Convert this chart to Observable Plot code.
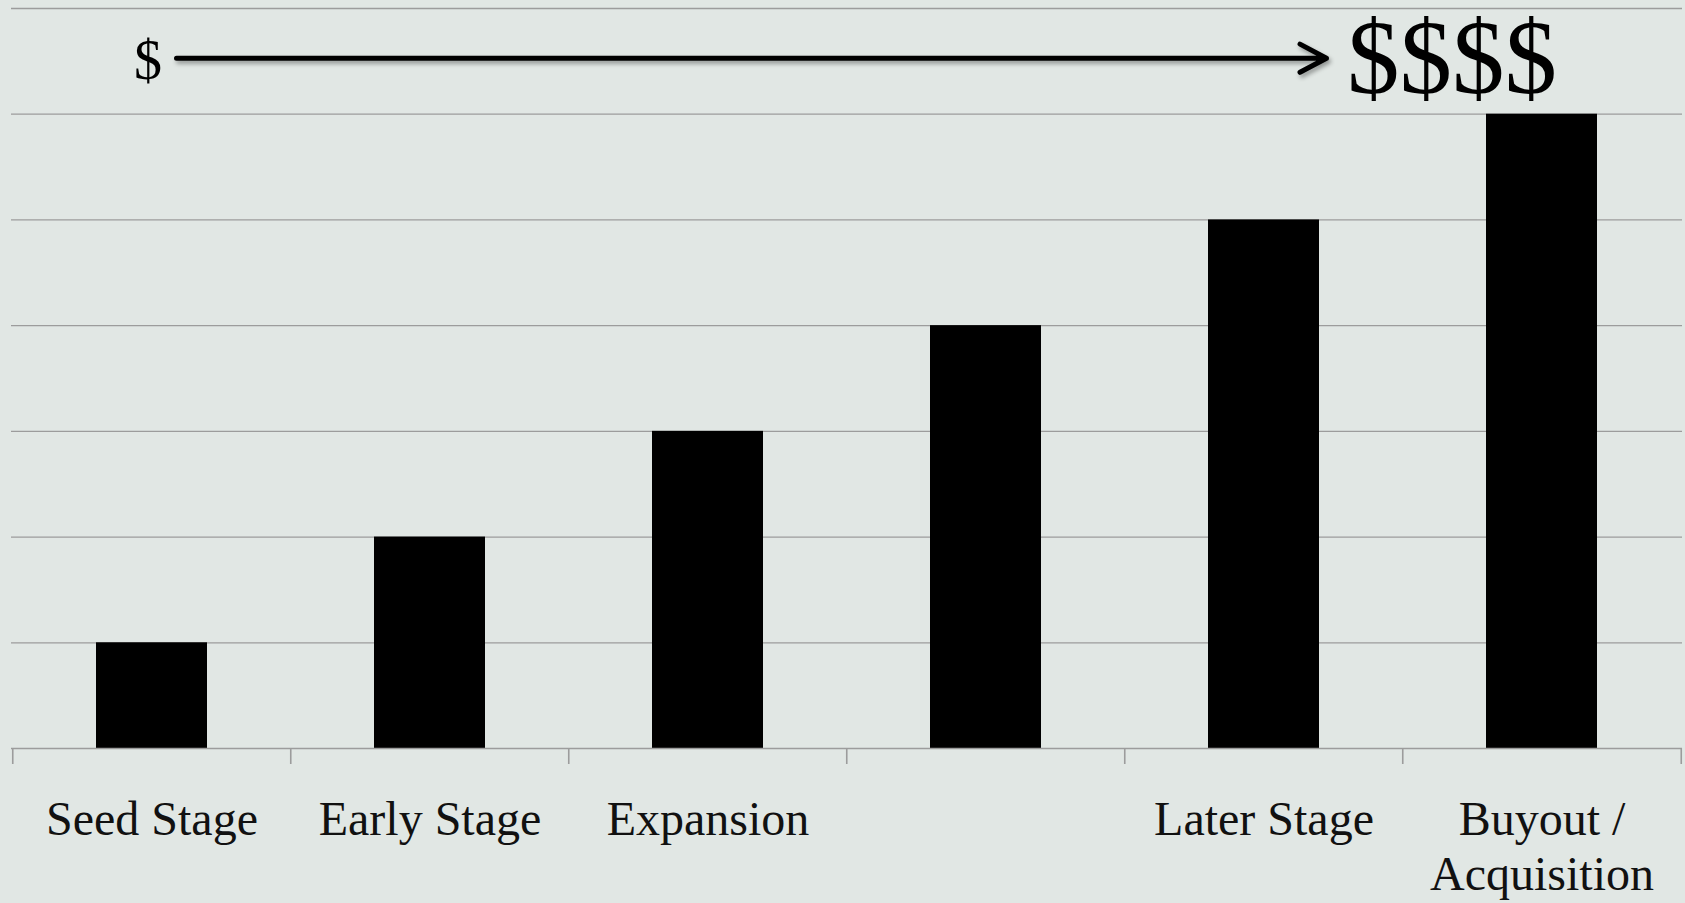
<!DOCTYPE html>
<html>
<head>
<meta charset="utf-8">
<script src="https://cdn.jsdelivr.net/npm/d3@7"></script>
<script src="https://cdn.jsdelivr.net/npm/@observablehq/plot@0.6"></script>
<style>
  html, body { margin: 0; padding: 0; background: #e1e7e4; }
  #chart svg { display: block; }
  .shadow path { filter: drop-shadow(2px 3px 2px rgba(0,0,0,0.35)); }
</style>
</head>
<body>
<div id="chart"></div>
<script>
// ---- data ----
const categories = ["Seed Stage", "Early Stage", "Expansion", "", "Later Stage", "Buyout / Acquisition"];
const tickLabels = ["Seed Stage", "Early Stage", "Expansion", "", "Later Stage", "Buyout /\nAcquisition"];
const values = [1, 2, 3, 4, 5, 6];
const gridValues = [1, 2, 3, 4, 5, 6, 7];
const arrowFrom = "Seed Stage";
const arrowTo = "Later Stage";
const arrowLevel = 6.53;
const lowLabel = "$";
const highLabel = "$$$$";

const rows = categories.map((c, i) => ({category: c, value: values[i], label: tickLabels[i]}));

const W = 1685, H = 903;
const mL = 11, mR = 3, mT = 8, mB = 155;
const step = (W - mL - mR) / categories.length;
const gray = "#9c9c9c";

const plot = Plot.plot({
  width: W,
  height: H,
  marginLeft: mL,
  marginRight: mR,
  marginTop: mT,
  marginBottom: mB,
  style: {background: "#e1e7e4", fontFamily: "'Liberation Serif', 'Times New Roman', serif", color: "#111"},
  x: {domain: categories, paddingInner: 0.6, paddingOuter: 0.3, axis: null},
  y: {domain: [0, 7], axis: null},
  marks: [
    Plot.ruleY(gridValues, {stroke: gray, strokeWidth: 1.3}),
    Plot.barY(rows, {x: "category", y: "value", fill: "#000"}),
    Plot.ruleY([0], {stroke: gray, strokeWidth: 1.6}),
    Plot.axisX({ticks: categories, tickSize: 16, tickFormat: () => "", dx: -step / 2, stroke: gray, strokeWidth: 1.6}),
    Plot.axisX({ticks: [categories[categories.length - 1]], tickSize: 16, tickFormat: () => "", dx: step / 2, stroke: gray, strokeWidth: 1.6}),
    Plot.text(rows, {x: "category", y: () => 0, text: "label", lineAnchor: "top", dy: 48, fontSize: 48, lineHeight: 1.14, fill: "#111"}),
    Plot.arrow([{from: arrowFrom, to: arrowTo, level: arrowLevel}], {
      x1: "from", x2: "to", y1: "level", y2: "level",
      insetStart: 24.5, insetEnd: -62.5, stroke: "#000", strokeWidth: 5,
      headLength: 9, headAngle: 56, className: "shadow"
    }),
    Plot.text([{at: arrowFrom, t: lowLabel}], {x: "at", y: () => 6.5, text: "t", fontSize: 56, dx: -4, lineAnchor: "middle", fill: "#000"}),
    Plot.text([{at: arrowTo, t: highLabel}], {x: "at", y: () => 6.5, text: "t", fontSize: 105, dx: 83, dy: -2, textAnchor: "start", lineAnchor: "middle", fill: "#000"})
  ]
});
document.getElementById("chart").appendChild(plot);
</script>
</body>
</html>
